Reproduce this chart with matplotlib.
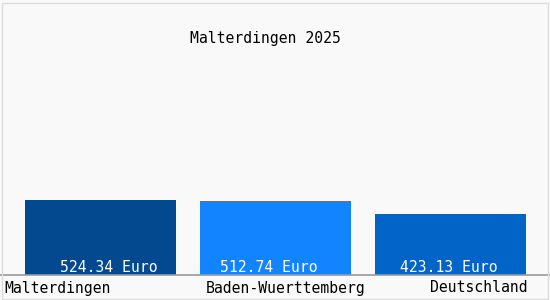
import matplotlib.pyplot as plt
from matplotlib.patches import Rectangle

# chart data
regions = ["Malterdingen", "Baden-Wuerttemberg", "Deutschland"]
values = [524.34, 512.74, 423.13]
bar_colors = ["#03498f", "#1284ff", "#0364c8"]
title = "Malterdingen 2025"

plt.rcParams["font.family"] = ["DejaVu Sans Mono"]
fs = 10.6

fig = plt.figure(figsize=(5.5, 3), dpi=100, facecolor="#f9f9f9")
# axes spans full width, from the baseline (y=275px) up to the top
ax = fig.add_axes([0, 25 / 300, 1, 275 / 300])
ax.set_facecolor("#f9f9f9")

px = 1 / 175  # data units per pixel on x
x = list(range(len(regions)))
ax.bar(x, values, width=151 * px, color=bar_colors, align="center", zorder=2)
ax.set_xlim(-100.5 * px, 449.5 * px)
ax.set_ylim(0, 275 * 6.95)

for s in ax.spines.values():
    s.set_visible(False)
ax.set_xticks([])
ax.set_yticks([])

# value labels inside the bars
label_shift = [8, -7, -2]
for i, v in enumerate(values):
    ax.text(i + label_shift[i] * px, 7 * 6.95, f"{v:.2f} Euro", color="white",
            ha="center", va="center", fontsize=fs, zorder=3)

# category labels under the baseline
ax.axhline(0, color="#999999", lw=1.2, zorder=3, clip_on=False)
aligns = [("left", -96.5), ("center", 10), ("right", 77.5)]
for i, name in enumerate(regions):
    ha, off = aligns[i]
    ax.text(i + off * px, -13 * 6.95, name, ha=ha, va="center",
            fontsize=fs, color="black", clip_on=False)

fig.text(265.5 / 550, 1 - 38 / 300, title, ha="center", va="center",
         fontsize=fs, color="black")

# light frame round the picture
fig.patches.append(Rectangle((1.5 / 550, 1.5 / 300), 546 / 550, 296 / 300,
                             transform=fig.transFigure, fill=False,
                             edgecolor="#dcdcdc", lw=1))

fig.savefig("out.png", dpi=100, facecolor=fig.get_facecolor())
